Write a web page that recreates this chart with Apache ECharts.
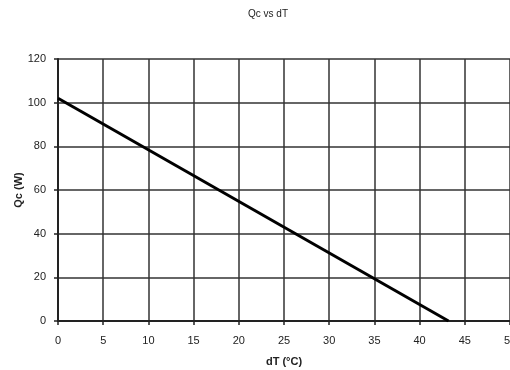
<!DOCTYPE html>
<html>
<head>
<meta charset="utf-8">
<script src="https://cdn.jsdelivr.net/npm/echarts@6/dist/echarts.min.js"></script>
<style>
  html, body { margin: 0; padding: 0; background: #fff; }
  #chart { width: 510px; height: 370px; }
</style>
</head>
<body>
<div id="chart"></div>
<script>
// dT (°C) vs Qc (W) — straight line
const dT = [0, 43.2]
const qc = [102, 0]
const xTicks = [0, 50, 5]   // min, max, step
const yTicks = [0, 120, 20]

const chart = echarts.init(document.getElementById('chart'))

const font = 'Liberation Sans, Arial, sans-serif'

const option = {
  animation: false,
  title: {
    text: 'Qc vs dT',
    left: 263,
    top: 4,
    textAlign: 'center',
    textStyle: { fontFamily: font, fontSize: 10, fontWeight: 'normal', color: '#222' },
  },
  grid: { left: 58, right: 0, top: 59, bottom: 49, outerBoundsMode: 'none', containLabel: false },
  xAxis: {
    type: 'value',
    min: xTicks[0],
    max: xTicks[1],
    interval: xTicks[2],
    name: 'dT (°C)',
    nameLocation: 'middle',
    nameGap: 35,
    nameTextStyle: { fontFamily: font, fontSize: 11, fontWeight: 'bold', color: '#222' },
    axisLine: { lineStyle: { color: '#222', width: 2 } },
    axisTick: { show: true, length: 4, lineStyle: { color: '#222', width: 1.5 } },
    axisLabel: { fontFamily: font, fontSize: 11, color: '#222', margin: 14 },
    splitLine: { show: true, lineStyle: { color: '#333', width: 1.5 } },
  },
  yAxis: {
    type: 'value',
    min: yTicks[0],
    max: yTicks[1],
    interval: yTicks[2],
    name: 'Qc (W)',
    nameLocation: 'middle',
    nameGap: 34,
    nameRotate: 90,
    nameMoveOverlap: false,
    nameTextStyle: { fontFamily: font, fontSize: 11, fontWeight: 'bold', color: '#222' },
    axisLine: { show: true, lineStyle: { color: '#222', width: 2 } },
    axisTick: { show: true, length: 4, lineStyle: { color: '#222', width: 1.5 } },
    axisLabel: { fontFamily: font, fontSize: 11, color: '#222', margin: 12 },
    splitLine: { show: true, lineStyle: { color: '#333', width: 1.5 } },
  },
  series: [
    {
      type: 'line',
      data: dT.map((x, i) => [x, qc[i]]),
      showSymbol: false,
      lineStyle: { color: '#000', width: 3 },
    },
  ],
}

chart.setOption(option)
</script>
</body>
</html>
